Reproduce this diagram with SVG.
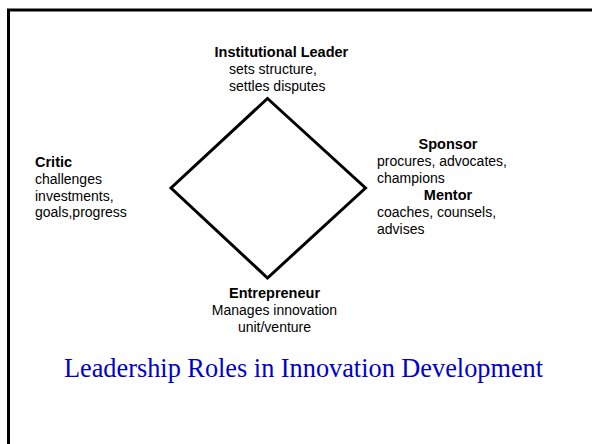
<svg xmlns="http://www.w3.org/2000/svg" width="592" height="444" viewBox="0 0 592 444">
  <style>
    .role { font-family: "Liberation Sans", Arial, sans-serif; font-size: 14px; fill: #000; }
    .name { font-weight: bold; font-size: 14.5px; }
    .mid { text-anchor: middle; }
    .title { font-family: "Liberation Serif", "Times New Roman", serif; font-size: 26.3px; fill: #0000cc; text-anchor: middle; }
    .edge { fill: none; stroke: #000; stroke-width: 3; stroke-linejoin: miter; }
  </style>
  <rect width="592" height="444" fill="#fff"/>
  <!-- slide frame, running off the right and bottom edges -->
  <rect x="8.5" y="10" width="620" height="480" fill="none" stroke="#000" stroke-width="3"/>

  <!-- diamond linking the four roles -->
  <g id="connectors">
    <polygon class="edge" points="267.5,98.5 365.5,188 267.5,278 171,188"/>
  </g>

  <g id="institutional-leader" class="role">
    <text class="name" x="214.5" y="57">Institutional Leader</text>
    <text x="229" y="74">sets structure,</text>
    <text x="229" y="90.5">settles disputes</text>
  </g>

  <g id="critic" class="role">
    <text class="name" x="35" y="167">Critic</text>
    <text x="35" y="184">challenges</text>
    <text x="35" y="200.5">investments,</text>
    <text x="35" y="217">goals,progress</text>
  </g>

  <g id="sponsor" class="role">
    <text class="name mid" x="448" y="149">Sponsor</text>
    <text x="377" y="166">procures, advocates,</text>
    <text x="377" y="183">champions</text>
  </g>

  <g id="mentor" class="role">
    <text class="name mid" x="448" y="200">Mentor</text>
    <text x="377" y="217">coaches, counsels,</text>
    <text x="377" y="234">advises</text>
  </g>

  <g id="entrepreneur" class="role">
    <text class="name mid" x="274.5" y="298">Entrepreneur</text>
    <text class="mid" x="274.5" y="314.5">Manages innovation</text>
    <text class="mid" x="274.5" y="331.5">unit/venture</text>
  </g>

  <text class="title" x="303.5" y="377">Leadership Roles in Innovation Development</text>
</svg>
